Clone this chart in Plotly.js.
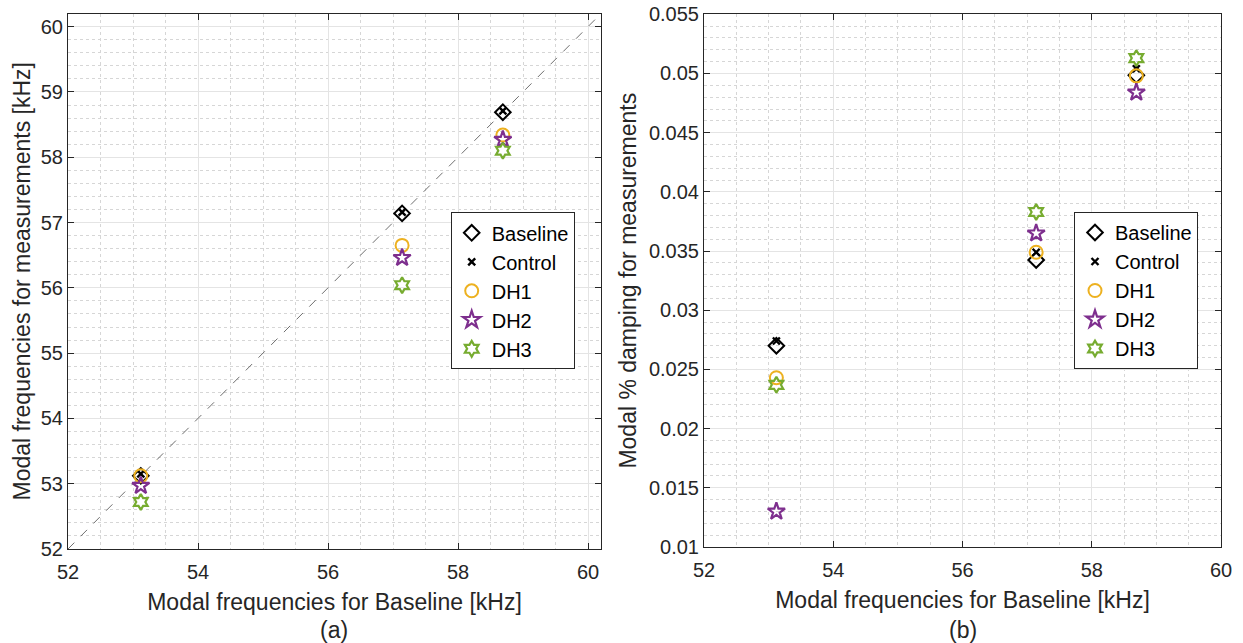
<!DOCTYPE html>
<html>
<head>
<meta charset="utf-8">
<script src="https://cdn.plot.ly/plotly-3.0.1.min.js"></script>
<style>
  html, body { margin: 0; padding: 0; background: #ffffff; }
  #chart { width: 1243px; height: 643px; }
</style>
</head>
<body>
<div id="chart"></div>
<script>
// ---- Data ----
var seriesNames = ['Baseline', 'Control', 'DH1', 'DH2', 'DH3'];

// Baseline modal frequencies [kHz] (x values for both panels)
var baselineFreq = [53.12, 57.14, 58.69];

// Panel (a): modal frequencies for measurements [kHz]
var freqBaseline = [53.12, 57.14, 58.69];
var freqControl  = [53.15, 57.16, 58.71];
var freqDH1      = [53.12, 56.65, 58.34];
var freqDH2      = [52.97, 56.46, 58.27];
var freqDH3      = [52.72, 56.04, 58.10];

// Panel (b): modal % damping for measurements
var dampBaseline = [0.0270, 0.03425, 0.04985];
var dampControl  = [0.0274, 0.0349, 0.0504];
var dampDH1      = [0.0243, 0.0349, 0.0498];
var dampDH2      = [0.0130, 0.0365, 0.0484];
var dampDH3      = [0.0237, 0.0383, 0.0513];

// Identity reference line for panel (a)
var diagLine = [52, 60.2];

// Tick values / labels
var freqTicks = [52, 54, 56, 58, 60];
var freqYTicks = [52, 53, 54, 55, 56, 57, 58, 59, 60];
var dampTicks = [0.01, 0.015, 0.02, 0.025, 0.03, 0.035, 0.04, 0.045, 0.05, 0.055];
var dampTickText = ['0.01', '0.015', '0.02', '0.025', '0.03', '0.035', '0.04', '0.045', '0.05', '0.055'];

// ---- Styles ----
var FONT = 'Liberation Sans, Arial, Helvetica, sans-serif';
var TXT = '#262626';
var styles = [
  {symbol: 'diamond-open', size: 12, color: '#000000', width: 2},
  {symbol: 'x-thin-open', size: 7, color: '#000000', width: 2.4},
  {symbol: 'circle-open', size: 13, color: '#EDB120', width: 2},
  {symbol: 'star-open', size: 13, color: '#7E2F8E', width: 2.2},
  {symbol: 'hexagram-open', size: 12, color: '#77AC30', width: 2.2}
];

var freqSeries = [freqBaseline, freqControl, freqDH1, freqDH2, freqDH3];
var dampSeries = [dampBaseline, dampControl, dampDH1, dampDH2, dampDH3];

var traces = [];
traces.push({
  x: diagLine, y: diagLine, mode: 'lines', type: 'scatter',
  line: {color: '#6f6f6f', width: 1, dash: 'dash'},
  showlegend: false, hoverinfo: 'skip', xaxis: 'x', yaxis: 'y'
});
for (var i = 0; i < seriesNames.length; i++) {
  var s = styles[i];
  traces.push({
    x: baselineFreq, y: freqSeries[i], name: seriesNames[i],
    mode: 'markers', type: 'scatter', xaxis: 'x', yaxis: 'y', legend: 'legend',
    marker: {symbol: s.symbol, size: s.size, color: s.color, line: {color: s.color, width: s.width}}
  });
}
for (var j = 0; j < seriesNames.length; j++) {
  var t = styles[j];
  traces.push({
    x: baselineFreq, y: dampSeries[j], name: seriesNames[j],
    mode: 'markers', type: 'scatter', xaxis: 'x2', yaxis: 'y2', legend: 'legend2',
    marker: {symbol: t.symbol, size: t.size, color: t.color, line: {color: t.color, width: t.width}}
  });
}

function axisBase(extra) {
  var a = {
    showline: true, linecolor: TXT, linewidth: 1, mirror: 'ticks',
    ticks: 'inside', ticklen: 6, tickwidth: 1, tickcolor: TXT,
    showgrid: true, gridcolor: '#e4e4e4', gridwidth: 1,
    zeroline: false, tickfont: {family: FONT, size: 20, color: TXT},
    fixedrange: true
  };
  for (var k in extra) a[k] = extra[k];
  return a;
}
var W = 1243, H = 643;
function px(x) { return x / W; }
function py(y) { return 1 - y / H; }

var minorGrid = function (dt) {
  return {dtick: dt, showgrid: true, gridcolor: '#d6d6d6', griddash: 'dot', gridwidth: 1, ticks: ''};
};

var layout = {
  width: W, height: H,
  margin: {l: 0, r: 0, t: 0, b: 0},
  paper_bgcolor: '#ffffff', plot_bgcolor: '#ffffff',
  font: {family: FONT, color: TXT},
  xaxis: axisBase({
    domain: [px(68), px(601)], range: [52, 60.2], anchor: 'y',
    tickmode: 'array', tickvals: freqTicks, ticklabelstandoff: 5,
    minor: minorGrid(0.5),
    title: {text: 'Modal frequencies for Baseline [kHz]', font: {family: FONT, size: 23, color: TXT}, standoff: 11}
  }),
  yaxis: axisBase({
    domain: [py(549), py(13.6)], range: [52, 60.2], anchor: 'x',
    tickmode: 'array', tickvals: freqYTicks,
    minor: minorGrid(0.2),
    title: {text: 'Modal frequencies for measurements [kHz]', font: {family: FONT, size: 23, color: TXT}, standoff: 3}
  }),
  xaxis2: axisBase({
    domain: [px(704), px(1221)], range: [52, 60], anchor: 'y2',
    tickmode: 'array', tickvals: freqTicks, ticklabelstandoff: 5,
    minor: minorGrid(0.5),
    title: {text: 'Modal frequencies for Baseline [kHz]', font: {family: FONT, size: 23, color: TXT}, standoff: 11}
  }),
  yaxis2: axisBase({
    domain: [py(547), py(14.3)], range: [0.01, 0.055], anchor: 'x2',
    tickmode: 'array', tickvals: dampTicks, ticktext: dampTickText,
    minor: minorGrid(0.001),
    title: {text: 'Modal % damping for measurements', font: {family: FONT, size: 23, color: TXT}, standoff: 5}
  }),
  legend: {
    x: px(450.7), y: py(212.3), xanchor: 'left', yanchor: 'top',
    bgcolor: '#ffffff', bordercolor: TXT, borderwidth: 1,
    font: {family: FONT, size: 20, color: '#000000'}, tracegroupgap: 0
  },
  legend2: {
    x: px(1074), y: py(212), xanchor: 'left', yanchor: 'top',
    bgcolor: '#ffffff', bordercolor: TXT, borderwidth: 1,
    font: {family: FONT, size: 20, color: '#000000'}, tracegroupgap: 0
  },
  annotations: [
    {text: '(a)', xref: 'paper', yref: 'paper', x: px(334.5), y: py(630), xanchor: 'center', yanchor: 'middle',
     showarrow: false, font: {family: FONT, size: 23, color: TXT}},
    {text: '(b)', xref: 'paper', yref: 'paper', x: px(962.5), y: py(630), xanchor: 'center', yanchor: 'middle',
     showarrow: false, font: {family: FONT, size: 23, color: TXT}}
  ],
  showlegend: true
};

Plotly.newPlot('chart', traces, layout, {displayModeBar: false, staticPlot: true});
</script>
</body>
</html>
